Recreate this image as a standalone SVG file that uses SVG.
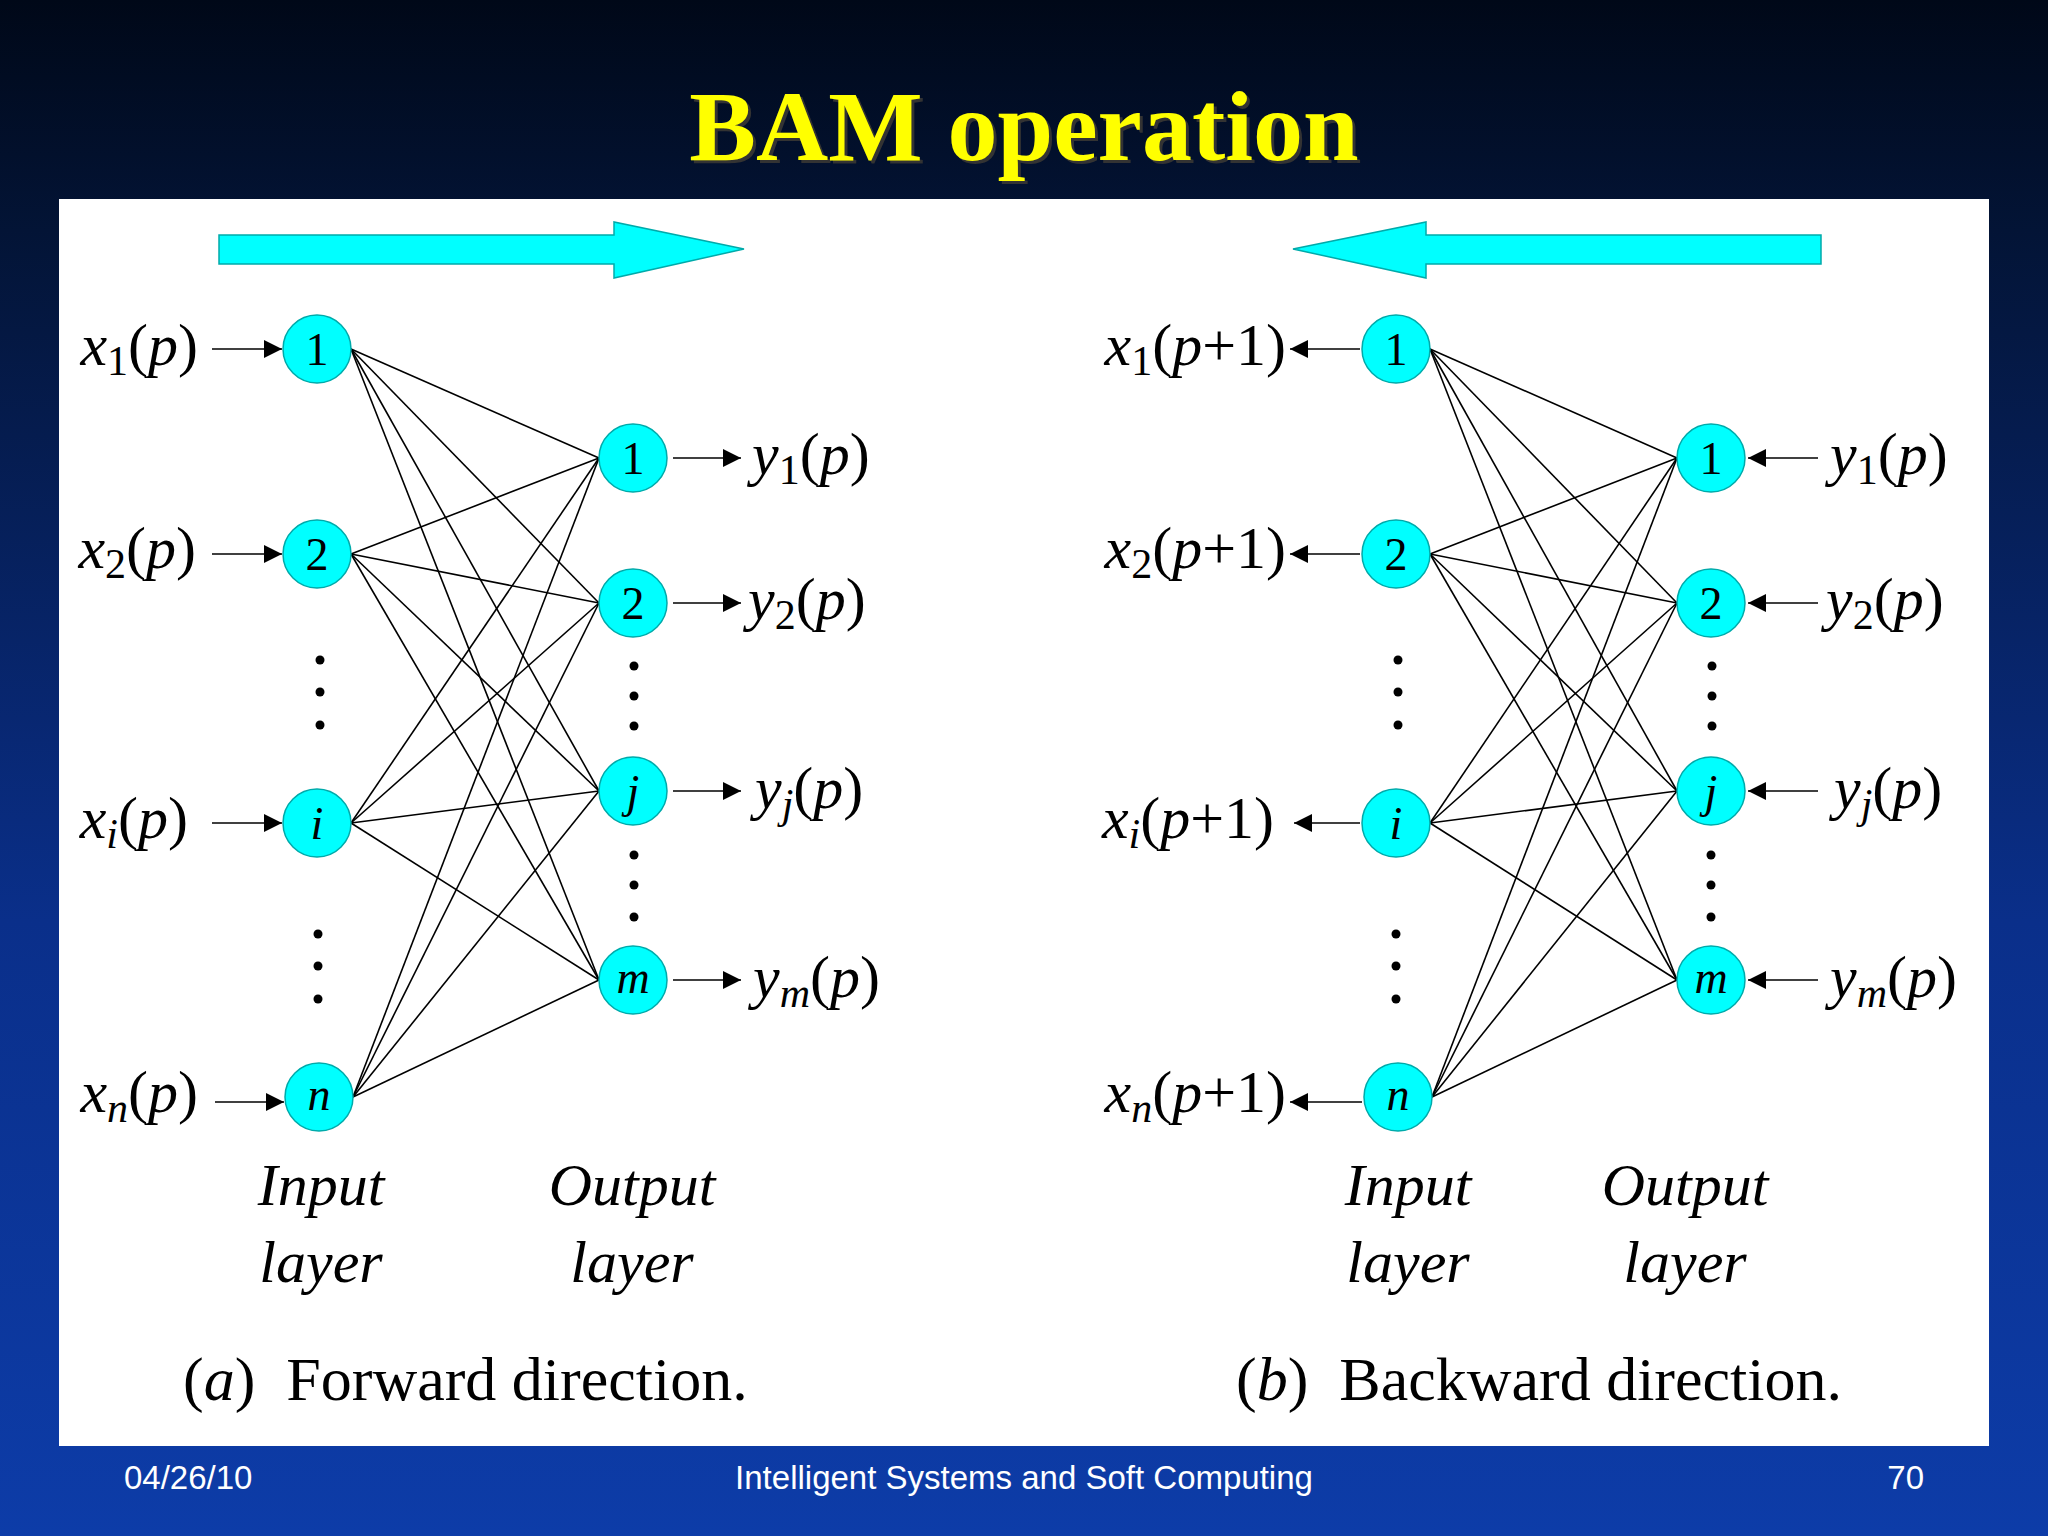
<svg xmlns="http://www.w3.org/2000/svg" width="2048" height="1536" viewBox="0 0 2048 1536">
<defs>
<linearGradient id="bg" x1="0" y1="0" x2="0" y2="1">
<stop offset="0" stop-color="#000818"/><stop offset="0.15" stop-color="#031436"/><stop offset="0.6" stop-color="#0a2f8a"/><stop offset="1" stop-color="#0d3ca8"/>
</linearGradient>
<marker id="ah" viewBox="0 0 10 10" refX="10" refY="5" markerWidth="20" markerHeight="18" orient="auto" markerUnits="userSpaceOnUse"><path d="M0,0 L10,5 L0,10 z" fill="#000"/></marker>
<style>
.n{fill:#00ffff;stroke:#00aaaa;stroke-width:1.5}
.c line{stroke:#000;stroke-width:1.6}
.a{stroke:#000;stroke-width:2.2;marker-end:url(#ah)}
.lb{font-family:"Liberation Serif",serif;font-size:60px;fill:#000}
.nl{font-family:"Liberation Serif",serif;font-size:46px;fill:#000;text-anchor:middle}
.it{font-style:italic}
.s{font-size:42px}
.ly{font-family:"Liberation Serif",serif;font-size:60px;font-style:italic;text-anchor:middle}
.cap{font-family:"Liberation Serif",serif;font-size:62px}
.ft{font-family:"Liberation Sans",sans-serif;font-size:33px;fill:#fff}
.dot{fill:#000}
</style>
</defs>
<rect width="2048" height="1536" fill="url(#bg)"/>
<text x="1027" y="163" text-anchor="middle" font-family="Liberation Serif,serif" font-weight="bold" font-size="100" fill="#333">BAM operation</text>
<text x="1024" y="160" text-anchor="middle" font-family="Liberation Serif,serif" font-weight="bold" font-size="100" fill="#ffff00">BAM operation</text>
<rect x="59" y="199" width="1930" height="1247" fill="#fff"/>

<polygon points="219,235 614,235 614,222 744,249 614,278 614,264 219,264" fill="#00ffff" stroke="#00aaaa" stroke-width="1.5"/>
<polygon points="1821,235 1426,235 1426,222 1293,249 1426,278 1426,264 1821,264" fill="#00ffff" stroke="#00aaaa" stroke-width="1.5"/>

<g id="connectors" class="c">
<g id="conn-a">
<line x1="351" y1="349" x2="599" y2="458"/><line x1="351" y1="349" x2="599" y2="603"/><line x1="351" y1="349" x2="599" y2="791"/><line x1="351" y1="349" x2="599" y2="980"/>
<line x1="351" y1="554" x2="599" y2="458"/><line x1="351" y1="554" x2="599" y2="603"/><line x1="351" y1="554" x2="599" y2="791"/><line x1="351" y1="554" x2="599" y2="980"/>
<line x1="351" y1="823" x2="599" y2="458"/><line x1="351" y1="823" x2="599" y2="603"/><line x1="351" y1="823" x2="599" y2="791"/><line x1="351" y1="823" x2="599" y2="980"/>
<line x1="353" y1="1097" x2="599" y2="458"/><line x1="353" y1="1097" x2="599" y2="603"/><line x1="353" y1="1097" x2="599" y2="791"/><line x1="353" y1="1097" x2="599" y2="980"/>
</g>
<g id="conn-b">
<line x1="1430" y1="349" x2="1677" y2="458"/><line x1="1430" y1="349" x2="1677" y2="603"/><line x1="1430" y1="349" x2="1677" y2="791"/><line x1="1430" y1="349" x2="1677" y2="980"/>
<line x1="1430" y1="554" x2="1677" y2="458"/><line x1="1430" y1="554" x2="1677" y2="603"/><line x1="1430" y1="554" x2="1677" y2="791"/><line x1="1430" y1="554" x2="1677" y2="980"/>
<line x1="1430" y1="823" x2="1677" y2="458"/><line x1="1430" y1="823" x2="1677" y2="603"/><line x1="1430" y1="823" x2="1677" y2="791"/><line x1="1430" y1="823" x2="1677" y2="980"/>
<line x1="1432" y1="1097" x2="1677" y2="458"/><line x1="1432" y1="1097" x2="1677" y2="603"/><line x1="1432" y1="1097" x2="1677" y2="791"/><line x1="1432" y1="1097" x2="1677" y2="980"/>
</g>
<line class="a" x1="212" y1="349" x2="282" y2="349"/><line class="a" x1="212" y1="554" x2="282" y2="554"/><line class="a" x1="212" y1="823" x2="282" y2="823"/><line class="a" x1="215" y1="1102" x2="284" y2="1102"/>
<line class="a" x1="673" y1="458" x2="741" y2="458"/><line class="a" x1="673" y1="603" x2="741" y2="603"/><line class="a" x1="673" y1="791" x2="741" y2="791"/><line class="a" x1="673" y1="980" x2="741" y2="980"/>
<line class="a" x1="1360" y1="349" x2="1290" y2="349"/><line class="a" x1="1360" y1="554" x2="1290" y2="554"/><line class="a" x1="1360" y1="823" x2="1294" y2="823"/><line class="a" x1="1362" y1="1102" x2="1290" y2="1102"/>
<line class="a" x1="1818" y1="458" x2="1748" y2="458"/><line class="a" x1="1818" y1="603" x2="1748" y2="603"/><line class="a" x1="1818" y1="791" x2="1748" y2="791"/><line class="a" x1="1818" y1="980" x2="1748" y2="980"/>
</g>

<g id="a-in1"><circle class="n" cx="317" cy="349" r="34"/><text class="nl" x="317" y="365">1</text></g>
<g id="a-in2"><circle class="n" cx="317" cy="554" r="34"/><text class="nl" x="317" y="570">2</text></g>
<g id="a-ini"><circle class="n" cx="317" cy="823" r="34"/><text class="nl it" x="317" y="839">i</text></g>
<g id="a-inn"><circle class="n" cx="319" cy="1097" r="34"/><text class="nl it" x="319" y="1110">n</text></g>
<g id="a-out1"><circle class="n" cx="633" cy="458" r="34"/><text class="nl" x="633" y="474">1</text></g>
<g id="a-out2"><circle class="n" cx="633" cy="603" r="34"/><text class="nl" x="633" y="619">2</text></g>
<g id="a-outj"><circle class="n" cx="633" cy="791" r="34"/><text class="nl it" x="633" y="807">j</text></g>
<g id="a-outm"><circle class="n" cx="633" cy="980" r="34"/><text class="nl it" x="633" y="993">m</text></g>

<g id="b-in1"><circle class="n" cx="1396" cy="349" r="34"/><text class="nl" x="1396" y="365">1</text></g>
<g id="b-in2"><circle class="n" cx="1396" cy="554" r="34"/><text class="nl" x="1396" y="570">2</text></g>
<g id="b-ini"><circle class="n" cx="1396" cy="823" r="34"/><text class="nl it" x="1396" y="839">i</text></g>
<g id="b-inn"><circle class="n" cx="1398" cy="1097" r="34"/><text class="nl it" x="1398" y="1110">n</text></g>
<g id="b-out1"><circle class="n" cx="1711" cy="458" r="34"/><text class="nl" x="1711" y="474">1</text></g>
<g id="b-out2"><circle class="n" cx="1711" cy="603" r="34"/><text class="nl" x="1711" y="619">2</text></g>
<g id="b-outj"><circle class="n" cx="1711" cy="791" r="34"/><text class="nl it" x="1711" y="807">j</text></g>
<g id="b-outm"><circle class="n" cx="1711" cy="980" r="34"/><text class="nl it" x="1711" y="993">m</text></g>

<g id="dots">
<circle class="dot" cx="320" cy="660" r="4.5"/><circle class="dot" cx="320" cy="692" r="4.5"/><circle class="dot" cx="320" cy="725" r="4.5"/>
<circle class="dot" cx="318" cy="934" r="4.5"/><circle class="dot" cx="318" cy="966" r="4.5"/><circle class="dot" cx="318" cy="999" r="4.5"/>
<circle class="dot" cx="634" cy="666" r="4.5"/><circle class="dot" cx="634" cy="696" r="4.5"/><circle class="dot" cx="634" cy="726" r="4.5"/>
<circle class="dot" cx="634" cy="855" r="4.5"/><circle class="dot" cx="634" cy="885" r="4.5"/><circle class="dot" cx="634" cy="917" r="4.5"/>
<circle class="dot" cx="1398" cy="660" r="4.5"/><circle class="dot" cx="1398" cy="692" r="4.5"/><circle class="dot" cx="1398" cy="725" r="4.5"/>
<circle class="dot" cx="1396" cy="934" r="4.5"/><circle class="dot" cx="1396" cy="966" r="4.5"/><circle class="dot" cx="1396" cy="999" r="4.5"/>
<circle class="dot" cx="1712" cy="666" r="4.5"/><circle class="dot" cx="1712" cy="696" r="4.5"/><circle class="dot" cx="1712" cy="726" r="4.5"/>
<circle class="dot" cx="1711" cy="855" r="4.5"/><circle class="dot" cx="1711" cy="885" r="4.5"/><circle class="dot" cx="1711" cy="917" r="4.5"/>
</g>

<g id="labels">
<text class="lb" x="198" y="365" text-anchor="end"><tspan class="it">x</tspan><tspan class="s" dy="10">1</tspan><tspan dy="-10">(</tspan><tspan class="it">p</tspan>)</text>
<text class="lb" x="196" y="568" text-anchor="end"><tspan class="it">x</tspan><tspan class="s" dy="10">2</tspan><tspan dy="-10">(</tspan><tspan class="it">p</tspan>)</text>
<text class="lb" x="188" y="838" text-anchor="end"><tspan class="it">x</tspan><tspan class="s it" dy="10">i</tspan><tspan dy="-10">(</tspan><tspan class="it">p</tspan>)</text>
<text class="lb" x="198" y="1112" text-anchor="end"><tspan class="it">x</tspan><tspan class="s it" dy="10">n</tspan><tspan dy="-10">(</tspan><tspan class="it">p</tspan>)</text>
<text class="lb" x="752" y="474"><tspan class="it">y</tspan><tspan class="s" dy="10">1</tspan><tspan dy="-10">(</tspan><tspan class="it">p</tspan>)</text>
<text class="lb" x="748" y="619"><tspan class="it">y</tspan><tspan class="s" dy="10">2</tspan><tspan dy="-10">(</tspan><tspan class="it">p</tspan>)</text>
<text class="lb" x="755" y="808"><tspan class="it">y</tspan><tspan class="s it" dy="10">j</tspan><tspan dy="-10">(</tspan><tspan class="it">p</tspan>)</text>
<text class="lb" x="753" y="997"><tspan class="it">y</tspan><tspan class="s it" dy="10">m</tspan><tspan dy="-10">(</tspan><tspan class="it">p</tspan>)</text>

<text class="lb" x="1286" y="365" text-anchor="end"><tspan class="it">x</tspan><tspan class="s" dy="10">1</tspan><tspan dy="-10">(</tspan><tspan class="it">p</tspan>+1)</text>
<text class="lb" x="1286" y="568" text-anchor="end"><tspan class="it">x</tspan><tspan class="s" dy="10">2</tspan><tspan dy="-10">(</tspan><tspan class="it">p</tspan>+1)</text>
<text class="lb" x="1274" y="838" text-anchor="end"><tspan class="it">x</tspan><tspan class="s it" dy="10">i</tspan><tspan dy="-10">(</tspan><tspan class="it">p</tspan>+1)</text>
<text class="lb" x="1286" y="1112" text-anchor="end"><tspan class="it">x</tspan><tspan class="s it" dy="10">n</tspan><tspan dy="-10">(</tspan><tspan class="it">p</tspan>+1)</text>
<text class="lb" x="1830" y="474"><tspan class="it">y</tspan><tspan class="s" dy="10">1</tspan><tspan dy="-10">(</tspan><tspan class="it">p</tspan>)</text>
<text class="lb" x="1826" y="619"><tspan class="it">y</tspan><tspan class="s" dy="10">2</tspan><tspan dy="-10">(</tspan><tspan class="it">p</tspan>)</text>
<text class="lb" x="1834" y="808"><tspan class="it">y</tspan><tspan class="s it" dy="10">j</tspan><tspan dy="-10">(</tspan><tspan class="it">p</tspan>)</text>
<text class="lb" x="1830" y="997"><tspan class="it">y</tspan><tspan class="s it" dy="10">m</tspan><tspan dy="-10">(</tspan><tspan class="it">p</tspan>)</text>

<text class="ly" x="321" y="1205">Input</text><text class="ly" x="321" y="1282">layer</text>
<text class="ly" x="632" y="1205">Output</text><text class="ly" x="632" y="1282">layer</text>
<text class="ly" x="1408" y="1205">Input</text><text class="ly" x="1408" y="1282">layer</text>
<text class="ly" x="1685" y="1205">Output</text><text class="ly" x="1685" y="1282">layer</text>

<text class="cap" x="183" y="1400" xml:space="preserve">(<tspan font-style="italic">a</tspan>)  Forward direction.</text>
<text class="cap" x="1236" y="1400" xml:space="preserve">(<tspan font-style="italic">b</tspan>)  Backward direction.</text>
</g>

<text class="ft" x="124" y="1489">04/26/10</text>
<text class="ft" x="1024" y="1489" text-anchor="middle">Intelligent Systems and Soft Computing</text>
<text class="ft" x="1924" y="1489" text-anchor="end">70</text>
</svg>
